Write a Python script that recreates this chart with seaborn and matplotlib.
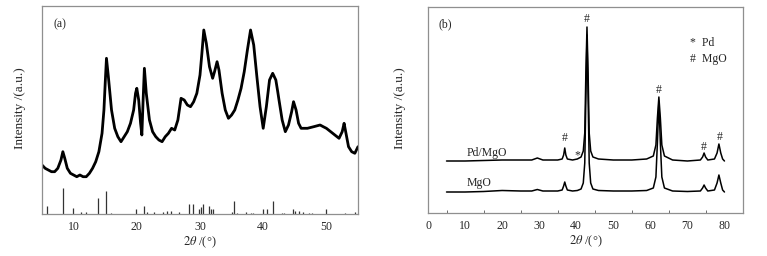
import numpy as np
import pandas as pd
import matplotlib
matplotlib.use("Agg")
import matplotlib.pyplot as plt
import seaborn as sns

# ---------------- data ----------------
# panel (a): measured pattern
a_theta = [5, 5.5, 6, 6.5, 7, 7.5, 8, 8.3, 8.6, 9, 9.5, 10, 10.5, 11, 11.5, 12, 12.5, 13, 13.5,
           14, 14.5, 14.8, 15, 15.2, 15.5, 16, 16.5, 17, 17.5, 18, 18.5, 19, 19.5, 19.8, 20, 20.3,
           20.6, 20.8, 21, 21.2, 21.5, 22, 22.5, 23, 23.5, 24, 24.5, 25, 25.5, 26, 26.5, 27, 27.5,
           28, 28.5, 29, 29.5, 30, 30.3, 30.6, 31, 31.5, 32, 32.3, 32.7, 33, 33.5, 34, 34.5, 35,
           35.5, 36, 36.5, 37, 37.5, 38, 38.5, 39, 39.5, 40, 40.5, 41, 41.5, 42, 42.3, 42.5, 43,
           43.5, 44, 44.5, 44.8, 45.2, 45.6, 46, 47, 48, 49, 49.5, 50, 51, 52, 52.5, 52.8, 53,
           53.5, 54, 54.5, 55]
a_int = [49, 45.7, 44, 42.3, 42.3, 45.7, 54, 62.3, 55.7, 45.7, 40.7, 39, 37.3, 39, 37.3, 37.3, 40.7,
         45.7, 52.3, 62.3, 80.7, 104, 130.7, 155.7, 137.3, 104, 85.7, 77.3, 72.3, 77.3, 82.3, 90.7,
         104, 120.7, 125.7, 114, 90.7, 79, 114, 145.7, 120.7, 94, 82.3, 77.3, 74, 72.3, 77.3, 80.7,
         85.7, 84, 94, 115.7, 114, 109, 107.3, 112.3, 120.7, 139, 160.7, 184, 170.7, 147.3, 135.7,
         142.3, 152.3, 144, 120.7, 104, 95.7, 99, 104, 114, 125.7, 142.3, 164, 184, 169, 137.3,
         107.3, 85.7, 107.3, 134, 140.7, 134, 122.3, 114, 94, 82.3, 89, 102.3, 112.3, 104, 90.7,
         85.7, 85.7, 87.3, 89, 87.3, 85.7, 80.7, 75.7, 82.3, 90.7, 84, 67.3, 62.3, 60.7, 67.3]

# panel (a): reference stick pattern
ref_theta = [5.74, 8.32, 9.96, 11.1, 11.96, 13.9, 15.08, 15.97, 19.87, 21.09, 21.66, 22.77, 24.1,
             24.7, 25.36, 26.7, 28.2, 28.94, 29.9, 30.1, 30.47, 31.37, 31.69, 32.0, 35.06, 35.43,
             35.8, 37.28, 38.07, 38.4, 39.9, 40.65, 41.5, 42.9, 43.3, 44.77, 45.1, 45.6, 46.25,
             47.3, 47.8, 49.98, 52.9, 54.5]
ref_int = [8, 25.7, 5.7, 2.3, 2.3, 15.7, 23.3, 1.3, 4.7, 8, 2.3, 2.3, 2.3, 3, 3, 2.3, 10, 10,
           4.7, 6.7, 10, 8, 4.7, 4.7, 2.3, 13, 1.3, 2.3, 1.3, 1.3, 5.3, 5.3, 13, 1.3, 1.3, 4.7,
           3, 3, 2.3, 1.3, 1.3, 5.3, 1.3, 2.3]

# panel (b)
b_theta = [5, 10, 15, 20, 25, 28, 29.5, 31, 35, 36.2, 36.6, 36.9, 37.2, 37.6, 39, 40.3, 41.3, 41.9,
           42.3, 42.6, 42.9, 43.2, 43.5, 43.9, 44.5, 46, 50, 55, 59, 60.8, 61.5, 61.9, 62.3, 62.7,
           63.1, 63.8, 66, 70, 73.5, 74.1, 74.5, 74.9, 75.5, 77.3, 78.0, 78.5, 79.0, 79.5, 80]
pdmgo = [52, 52, 52.5, 53, 53, 53, 55, 53, 53, 54, 58, 65, 58, 54, 53, 54, 56, 62, 80, 140, 186,
         140, 80, 62, 56, 54, 53, 53, 54, 57, 68, 95, 116, 95, 68, 57, 53, 52, 53, 56, 60, 56, 53,
         54, 60, 69, 60, 54, 52]
mgo = [21, 21, 21.5, 22.5, 22, 22, 23.5, 22, 22, 23, 27, 31, 27, 23, 22, 22.5, 24, 30, 50, 115,
       178, 115, 50, 30, 24, 22.5, 22, 22, 22.5, 25, 36, 70, 112, 70, 36, 25, 22, 21.5, 22, 25, 28,
       25, 22, 23, 30, 38, 30, 23, 21]

mgo_marks_theta = [36.9, 42.9, 62.3, 74.5, 78.6]
mgo_marks_y = [75, 194, 123, 66, 76]
pd_marks_theta = [40.3]
pd_marks_y = [58]

a_xticks = [10, 20, 30, 40, 50]
b_xticks = [0, 10, 20, 30, 40, 50, 60, 70, 80]

# ---------------- style ----------------
sns.set_style("white")
plt.rcParams["font.family"] = ["Liberation Serif", "DejaVu Serif"]
plt.rcParams["mathtext.fontset"] = "stix"
FS = 8.5
frame = "#8f8f8f"

fig = plt.figure(figsize=(7.67, 2.56), dpi=100)
ax1 = fig.add_axes([42 / 767, 42 / 256, 316 / 767, 208 / 256])
ax2 = fig.add_axes([428 / 767, 43 / 256, 315 / 767, 206 / 256])

# ---- panel (a)
dfa = pd.DataFrame({"theta": a_theta, "I": a_int})
sns.lineplot(data=dfa, x="theta", y="I", ax=ax1, color="black", lw=2.0, estimator=None)
ax1.vlines(ref_theta, 0, ref_int, colors="#333333", lw=0.9)
ax1.set_xlim(5, 55)
ax1.set_ylim(0, 208)
ax1.set_xticks(a_xticks)
ax1.set_yticks([])
ax1.tick_params(axis="x", length=0, pad=5, labelsize=FS)
ax1.text(0.035, 0.913, "(a)", transform=ax1.transAxes, fontsize=FS, va="center")

# ---- panel (b)
dfb = pd.DataFrame({"theta": b_theta + b_theta,
                    "I": pdmgo + mgo,
                    "sample": ["Pd/MgO"] * len(b_theta) + ["MgO"] * len(b_theta)})
sns.lineplot(data=dfb, x="theta", y="I", hue="sample", units="sample", estimator=None,
             palette={"Pd/MgO": "black", "MgO": "black"}, lw=1.1, ax=ax2, legend=False)
ax2.set_xlim(0, 85)
ax2.set_ylim(0, 206)
ax2.set_xticks(b_xticks)
ax2.set_xticks(np.arange(5, 85, 10), minor=True)
ax2.set_yticks([])
ax2.tick_params(axis="x", which="major", direction="in", length=3, width=0.6, pad=5,
                labelsize=FS, color="#555555")
ax2.tick_params(axis="x", which="minor", direction="in", length=2, width=0.6, color="#555555",
                bottom=True)
for t, y in zip(mgo_marks_theta, mgo_marks_y):
    ax2.text(t, y, "#", ha="center", va="center", fontsize=FS)
for t, y in zip(pd_marks_theta, pd_marks_y):
    ax2.text(t, y, "*", ha="center", va="center", fontsize=FS)
ax2.text(10.4, 60, "Pd/MgO", ha="left", va="center", fontsize=FS)
ax2.text(10.4, 30, "MgO", ha="left", va="center", fontsize=FS)
ax2.text(70.6, 170, "*  Pd", ha="left", va="center", fontsize=FS)
ax2.text(70.6, 154, "#  MgO", ha="left", va="center", fontsize=FS)
ax2.text(0.032, 0.917, "(b)", transform=ax2.transAxes, fontsize=FS, va="center")

for ax in (ax1, ax2):
    for s in ax.spines.values():
        s.set_visible(True)
        s.set_color(frame)
        s.set_linewidth(0.9)
    ax.set_xlabel(r"$\mathit{2\theta}$ /(°)", fontsize=FS + 0.5, labelpad=1)
    ax.set_ylabel("")

fig.text(20 / 767, 1 - 108 / 256, "Intensity /(a.u.)", rotation=90, ha="center", va="center",
         fontsize=9.5)
fig.text(400 / 767, 1 - 108 / 256, "Intensity /(a.u.)", rotation=90, ha="center", va="center",
         fontsize=9.5)

fig.savefig("out.png", dpi=100, facecolor="white")
